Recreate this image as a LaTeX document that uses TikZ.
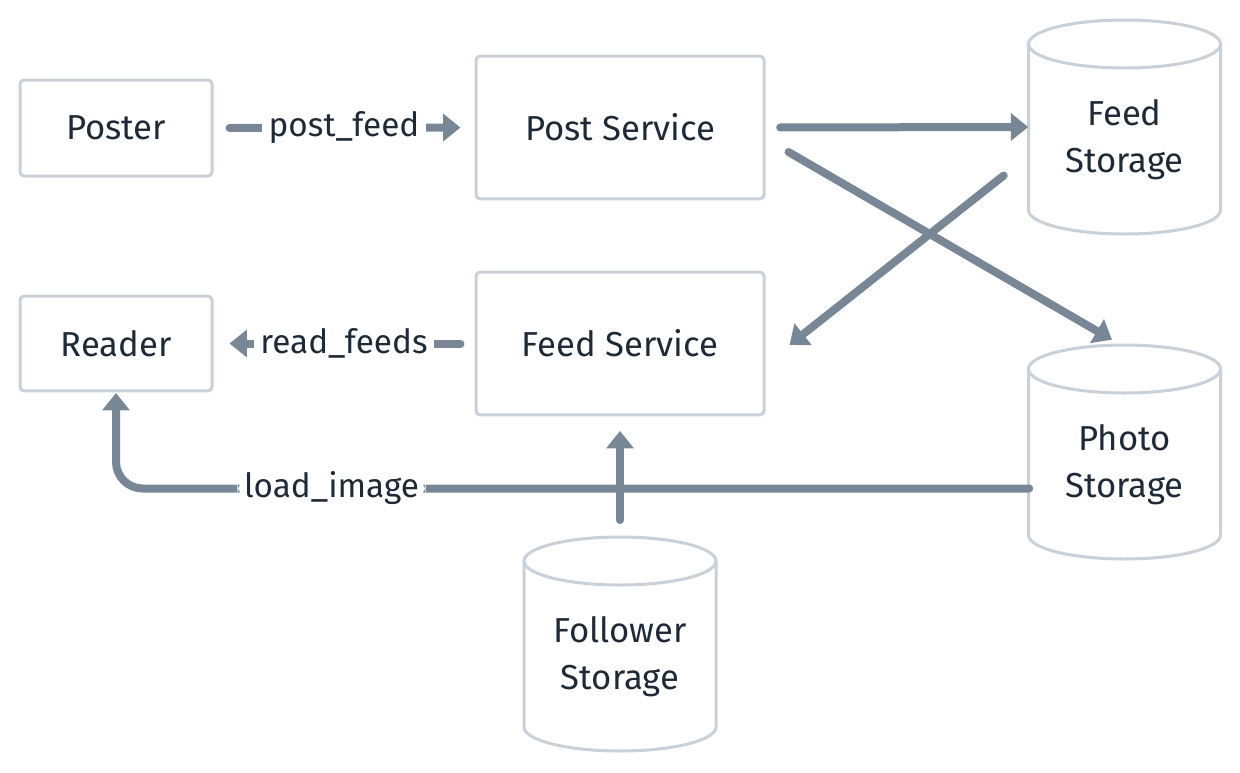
\documentclass[tikz,border=0pt]{standalone}
\usepackage{fontspec}
\setmainfont{Fira Sans}
\usetikzlibrary{arrows.meta,calc}
\definecolor{boxc}{RGB}{200,209,218}
\definecolor{edgec}{RGB}{120,135,150}
\definecolor{txtc}{RGB}{30,42,56}
\tikzset{
  box/.style={draw=boxc, line width=2.25pt, rounded corners=3pt, fill=white, text=txtc, inner sep=0pt},
  cylline/.style={draw=boxc, line width=2.25pt},
  cyltext/.style={text=txtc, align=center, inner sep=0pt},
  conn/.style={draw=edgec, line width=6pt, line cap=round, -{Triangle[length=13pt,width=20pt]}},
  lbl/.style={fill=white, text=txtc, inner xsep=5pt, inner ysep=2pt, font=\fontsize{25}{30}\selectfont}
}
\newcommand\dbcyl[4]{%
  \node[minimum width=144pt, minimum height=160.5pt, inner sep=0pt] (#1) at (#2,#3+107) {};
  \draw[cylline] (#2-96,#3+24) -- (#2-96,#3+190) arc[start angle=180,end angle=360,x radius=72pt,y radius=18pt] -- (#2+96,#3+24);
  \draw[cylline] (#2,#3+24) ellipse[x radius=72pt,y radius=18pt];
  \node[cyltext] (#1-t) at (#2,#3+119.5) {#4};
}
\begin{document}
\begin{tikzpicture}[x=0.75pt,y=-0.75pt, font=\fontsize{26}{35}\selectfont]
\useasboundingbox (0,0) rectangle (1240,772);
% boxes
\node[box, minimum width=144pt, minimum height=72pt] (poster) at (116,128) {Poster};
\node[box, minimum width=216pt, minimum height=107pt] (ps) at (620,127.5) {Post Service};
\node[box, minimum width=144pt, minimum height=71pt] (reader) at (116,343.5) {Reader};
\node[box, minimum width=216pt, minimum height=107pt] (fsv) at (620,343.5) {Feed Service};
% storages
\dbcyl{fst}{1124.5}{20}{Feed\\Storage}
\dbcyl{pst}{1124.5}{345}{Photo\\Storage}
\dbcyl{fol}{620}{537}{Follower\\Storage}
% connectors
\draw[conn, shorten <=12pt, shorten >=10.5pt] (poster.east) -- node[lbl]{post\_feed} (ps.west);
\draw[conn, shorten <=11pt, shorten >=0pt] (ps.east) -- (fst.west);
\draw[conn] ($(ps.east)+(23,24.5)$) -- ($(pst.north)+(-12.5,-5)$);
\draw[conn] ($(fst.west)+(-24.5,48.5)$) -- ($(fsv.east)+(24,1.5)$);
\draw[conn, shorten <=10.5pt, shorten >=12pt] (fsv.west) -- node[lbl]{read\_feeds} (reader.east);
\draw[conn, rounded corners=20pt, shorten >=0.5pt] ($(pst.west)+(1,36.5)$) -| node[lbl, pos=0.382]{load\_image} (reader.south);
\draw[conn, shorten <=12.5pt, shorten >=11pt] (fol.north) -- (fsv.south);
\end{tikzpicture}
\end{document}
